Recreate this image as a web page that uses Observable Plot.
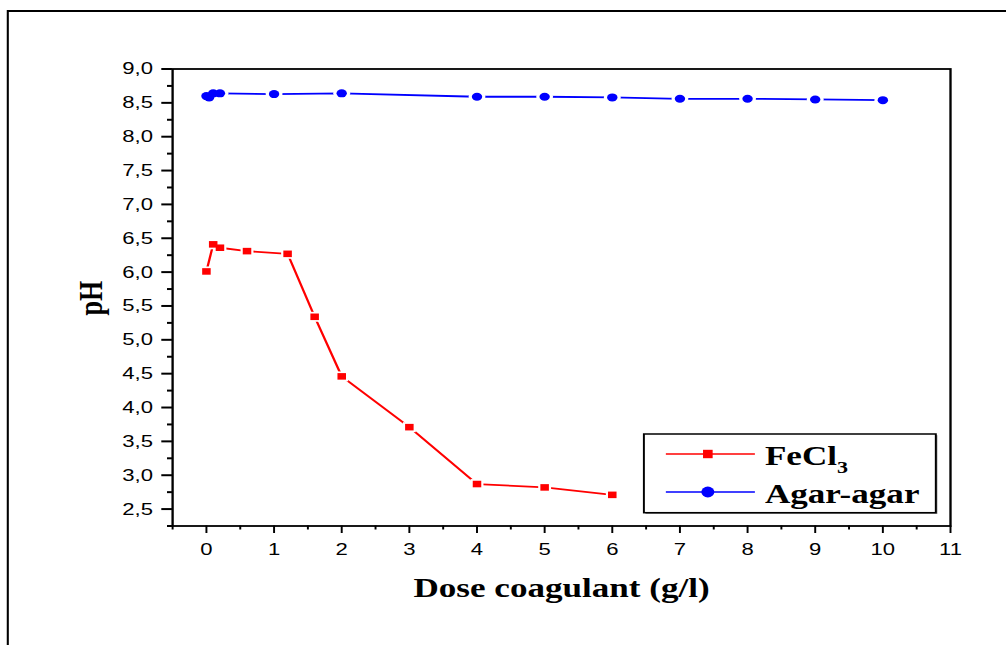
<!DOCTYPE html>
<html>
<head>
<meta charset="utf-8">
<script src="https://cdn.jsdelivr.net/npm/d3@7"></script>
<script src="https://cdn.jsdelivr.net/npm/@observablehq/plot@0.6"></script>
<style>
  html, body { margin: 0; padding: 0; background: #fff; }
  #chart { width: 1006px; height: 645px; overflow: hidden; }
</style>
</head>
<body>
<div id="chart"></div>
<script>
// ---- data ----
const seriesNames = ["FeCl3", "Agar-agar"];
const doseFe = [0, 0.1, 0.2, 0.6, 1.2, 1.6, 2, 3, 4, 5, 6];
const phFe   = [6.01, 6.41, 6.36, 6.31, 6.27, 5.34, 4.46, 3.71, 2.87, 2.82, 2.71];
const doseAgar = [0, 0.04, 0.1, 0.2, 1, 2, 4, 5, 6, 7, 8, 9, 10];
const phAgar   = [8.60, 8.58, 8.64, 8.64, 8.63, 8.64, 8.59, 8.59, 8.58, 8.56, 8.56, 8.55, 8.54];
const xTicks = [0, 1, 2, 3, 4, 5, 6, 7, 8, 9, 10, 11];
const xMinor = [-0.5, 0.5, 1.5, 2.5, 3.5, 4.5, 5.5, 6.5, 7.5, 8.5, 9.5, 10.5];
const yTicks = [2.5, 3.0, 3.5, 4.0, 4.5, 5.0, 5.5, 6.0, 6.5, 7.0, 7.5, 8.0, 8.5, 9.0];
const yMinor = [2.25, 2.75, 3.25, 3.75, 4.25, 4.75, 5.25, 5.75, 6.25, 6.75, 7.25, 7.75, 8.25, 8.75];
const xTitle = "Dose coagulant (g/l)";
const yTitle = "pH";

(function () {
const fe = doseFe.map((d, i) => ({dose: d, ph: phFe[i]}));
const agar = doseAgar.map((d, i) => ({dose: d, ph: phAgar[i]}));

// ---- layout (logical units; drawing is stretched horizontally to 1006px) ----
const W = 774, H = 645;
const mLeft = 132.3, mRight = 730.8, mTop = 68.5, mBottom = 525.5;
const RED = "#ff0000", BLUE = "#0000ff";
const serif = "'Liberation Serif', 'Times New Roman', serif";
const fmt = d => d.toFixed(1).replace(".", ",");

const svg = Plot.plot({
  width: W, height: H,
  marginLeft: mLeft, marginRight: W - mRight, marginTop: mTop, marginBottom: H - mBottom,
  style: {fontFamily: "'Liberation Sans', Arial, sans-serif", fontSize: "17px", color: "#000", background: "#fff"},
  x: {domain: [-0.5, 11], axis: null},
  y: {domain: [2.25, 9], axis: null},
  marks: [
    Plot.line(fe, {x: "dose", y: "ph", stroke: RED, strokeWidth: 1.8}),
    Plot.line(agar, {x: "dose", y: "ph", stroke: BLUE, strokeWidth: 1.8}),
    Plot.dot(fe, {x: "dose", y: "ph", symbol: "square", r: 5.6, fill: "#fff"}),
    Plot.dot(agar, {x: "dose", y: "ph", r: 6.5, fill: "#fff"}),
    Plot.dot(fe, {x: "dose", y: "ph", symbol: "square", r: 3.7, fill: RED}),
    Plot.dot(agar, {x: "dose", y: "ph", r: 4, fill: BLUE}),
    Plot.frame({stroke: "#000", strokeWidth: 1.8}),
    Plot.axisX(xTicks, {tickSize: 7.5, tickPadding: 9.7, strokeWidth: 1.5, fontSize: 17, label: null}),
    Plot.axisX(xMinor, {tickSize: 4, tickFormat: () => "", strokeWidth: 1.5, label: null}),
    Plot.axisY(yTicks, {tickSize: 8.2, tickPadding: 6.9, tickFormat: fmt, strokeWidth: 2, fontSize: 17, label: null}),
    Plot.axisY(yMinor, {tickSize: 3.8, tickFormat: () => "", strokeWidth: 2, label: null}),
    Plot.text([xTitle], {text: d => d, frameAnchor: "bottom", lineAnchor: "bottom", dy: 70.5,
      fontFamily: serif, fontWeight: "bold", fontSize: 27, fill: "#000"}),
    Plot.text([yTitle], {text: d => d, frameAnchor: "left", rotate: -90, dx: -62.7, dy: 18,
      fontFamily: serif, fontWeight: "bold", fontSize: 26, fill: "#000"})
  ]
});

svg.setAttribute("width", 1006);
svg.setAttribute("height", H);
svg.setAttribute("viewBox", `0 0 ${W} ${H}`);
svg.setAttribute("preserveAspectRatio", "none");
svg.style.width = "1006px";
svg.style.height = H + "px";
svg.style.maxWidth = "none";

const g = d3.select(svg).append("g");
// outer page frame
g.append("line").attr("x1", 6).attr("y1", 11).attr("x2", W + 5).attr("y2", 11)
  .attr("stroke", "#000").attr("stroke-width", 2);
g.append("line").attr("x1", 6).attr("y1", 10).attr("x2", 6).attr("y2", H + 5)
  .attr("stroke", "#000").attr("stroke-width", 1.6);

// legend
const lg = g.append("g").attr("text-anchor", "start");
lg.append("rect").attr("x", 496.6).attr("y", 435.2).attr("width", 224.6).attr("height", 78.7)
  .attr("fill", "#888").attr("stroke", "none");
lg.append("rect").attr("x", 495.4).attr("y", 434).attr("width", 224.6).attr("height", 78.7)
  .attr("fill", "#fff").attr("stroke", "#000").attr("stroke-width", 1.5);
const rows = [
  {name: seriesNames[0], color: RED, y: 454, sym: "square"},
  {name: seriesNames[1], color: BLUE, y: 492, sym: "circle"}
];
rows.forEach(r => {
  lg.append("line").attr("x1", 512.3).attr("x2", 580.8).attr("y1", r.y).attr("y2", r.y)
    .attr("stroke", r.color).attr("stroke-width", 1.6);
  if (r.sym === "square") {
    lg.append("rect").attr("x", 544.6 - 3.7).attr("y", r.y - 4.2).attr("width", 7.4).attr("height", 8.4).attr("fill", r.color);
  } else {
    lg.append("ellipse").attr("cx", 544.6).attr("cy", r.y).attr("rx", 5).attr("ry", 5.4).attr("fill", r.color);
  }
  const t = lg.append("text").attr("x", 588.5).attr("y", r.y + 11).attr("text-anchor", "start")
    .attr("font-family", serif).attr("font-weight", "bold").attr("font-size", 27).attr("fill", "#000");
  if (r.name === "FeCl3") {
    t.append("tspan").text("FeCl");
    t.append("tspan").attr("font-size", 17).attr("dy", 8).text("3");
  } else {
    t.text(r.name);
  }
});

document.getElementById("chart").appendChild(svg);
})();
</script>
</body>
</html>
